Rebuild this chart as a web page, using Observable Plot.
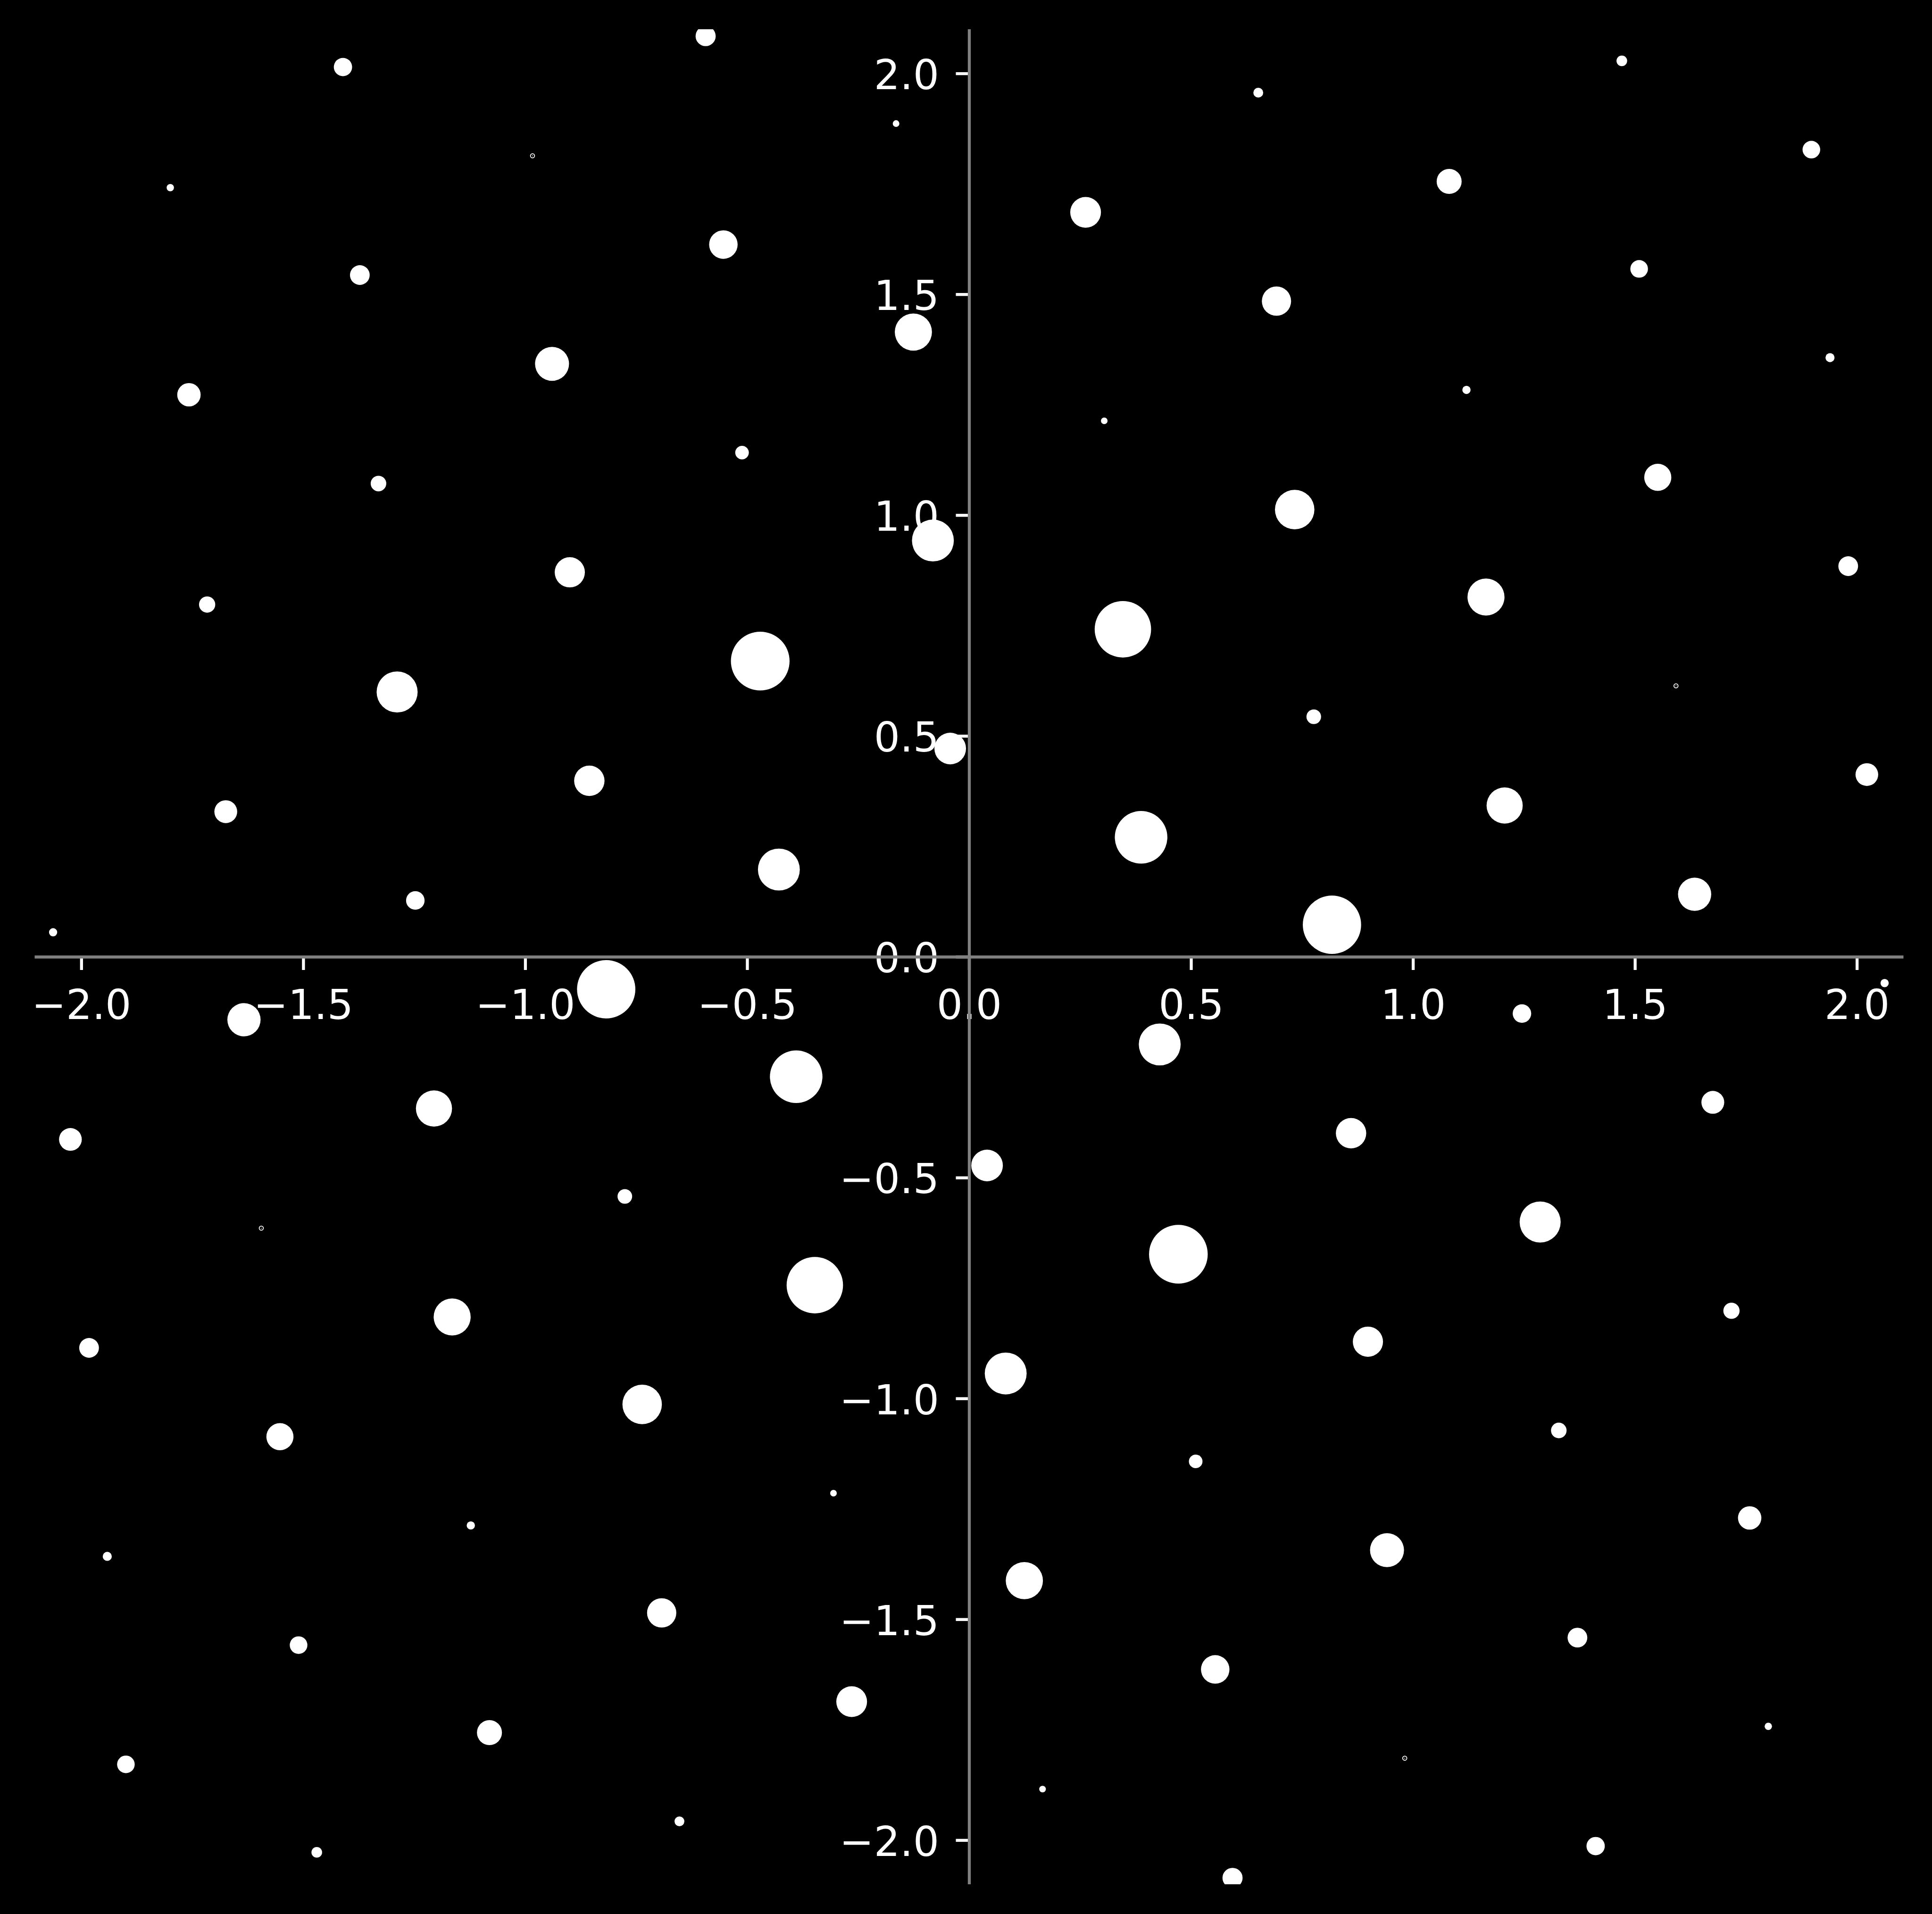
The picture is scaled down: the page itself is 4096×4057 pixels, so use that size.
<!DOCTYPE html>
<html>
<head>
<meta charset="utf-8">
<script src="https://cdn.jsdelivr.net/npm/d3@7"></script>
<script src="https://cdn.jsdelivr.net/npm/@observablehq/plot@0.6"></script>
<style>
  html, body { margin: 0; padding: 0; background: #000; }
  #chart svg { display: block; }
</style>
</head>
<body>
<div id="chart"></div>
<script>
// ---- data ----
const xValues = [
  -1.411, 1.411, -0.594, 0.593, -1.800, 1.800, -0.984, 0.981, -0.165, 0.165,
   0.651, -0.653, 1.470, -1.470, 1.897, -1.900, 1.081, -1.081, 0.262, -0.265,
  -0.554, 0.554, -1.373, 1.370, -1.758, 1.758, -0.940, 0.941, -0.126, 0.124,
   0.692, -0.693, 1.509, -1.511, 1.939, -1.942, 1.120, -1.123, 0.304, -0.306,
  -0.512, 0.510, -1.331, 1.328, -1.717, 1.717, -0.900, 0.898, -0.082, 0.082,
   0.733, -0.737, 1.551, -1.553, 1.980, -1.983, 1.164, -1.165, 0.346, -0.348,
  -0.471, 0.471, -1.289, 1.286, -1.675, 1.675, -0.856, 0.860, -0.043, 0.040,
   0.776, -0.776, 1.592, -1.595, 2.022, -2.025, 1.206, -1.206, 0.387, -0.390,
  -0.429, 0.429, -1.248, 1.245, -2.064, 2.062, 1.634, -1.634, 0.817, -0.818
];
const yValues = [
   2.015, -2.013, 2.085, -2.085, 1.742, -1.742, 1.814, -1.814, 1.887, -1.884,
   1.957, -1.957, 2.029, -2.027, 1.828, -1.828, 1.756, -1.756, 1.686, -1.686,
   1.613, -1.613, 1.544, -1.541, 1.273, -1.270, 1.343, -1.343, 1.415, -1.412,
   1.485, -1.485, 1.558, -1.558, 1.357, -1.357, 1.284, -1.287, 1.214, -1.214,
   1.142, -1.142, 1.072, -1.072, 0.798, -0.801, 0.871, -0.871, 0.943, -0.943,
   1.013, -1.013, 1.086, -1.086, 0.885, -0.885, 0.815, -0.815, 0.742, -0.743,
   0.670, -0.673, 0.600, -0.600, 0.329, -0.329, 0.399, -0.399, 0.472, -0.472,
   0.544, -0.542, 0.614, -0.614, 0.413, -0.413, 0.343, -0.343, 0.271, -0.271,
   0.198, -0.198, 0.128, -0.128, 0.056, -0.059, 0.142, -0.142, 0.073, -0.073
];
// marker size (area, pt^2-like); 0 = vanishing marker (drawn as a hairline ring)
const sizeValues = [
   24.3, 24.3, 29.3, 29.3, 3.9, 3.9, 0, 0, 3.2, 3.2,
   7.0, 7.0, 8.2, 8.2, 22.5, 22.5, 45.3, 45.3, 68.5, 68.5,
   58.8, 58.8, 28.2, 28.2, 39.7, 39.7, 83.6, 83.6, 100.1, 100.1,
   62.0, 62.0, 22.5, 22.5, 5.9, 5.9, 4.9, 4.9, 3.2, 3.2,
   13.4, 13.4, 17.6, 17.6, 19.1, 19.1, 66.0, 66.0, 127.1, 127.1,
   112.7, 112.7, 53.1, 53.1, 28.2, 28.2, 99.1, 99.1, 230.6, 230.6,
   249.4, 249.4, 122.0, 122.0, 37.8, 37.8, 66.9, 66.9, 72.4, 72.4,
   15.5, 15.5, 0, 0, 37.4, 37.4, 94.6, 94.6, 200.0, 200.0,
   127.1, 127.1, 24.8, 24.8, 4.9, 4.9, 79.9, 79.9, 246.2, 246.2
];
const xTicks = [-2, -1.5, -1, -0.5, 0, 0.5, 1, 1.5, 2];
const yTicks = [-2, -1.5, -1, -0.5, 0, 0.5, 1, 1.5, 2];
const tickLabel = d3.format(".1f");

// ---- build ----
const points = xValues.map((x, i) => ({x, y: yValues[i], s: sizeValues[i]}));
const solid = points.filter(d => d.s > 0);
const hollow = points.filter(d => d.s === 0);

const fontSize = 87;
const tickLen = 28;
const lw = 6.3;

const chart = Plot.plot({
  width: 4096,
  height: 4057,
  marginLeft: 73.5,
  marginRight: 60.5,
  marginTop: 62,
  marginBottom: 63,
  style: {background: "#000", color: "#fff", fontFamily: "'DejaVu Sans', sans-serif"},
  x: {domain: [-2.105, 2.105], axis: null},
  y: {domain: [-2.1, 2.1], axis: null},
  r: {type: "sqrt", domain: [0, 249.4], range: [0, 62.2]},
  marks: [
    Plot.text(xTicks, {x: d => d, y: 0, text: tickLabel, dy: tickLen + 42, lineAnchor: "top",
      textAnchor: "middle", fill: "#fff", fontSize}),
    Plot.text(yTicks, {x: 0, y: d => d, text: tickLabel, dx: -(tickLen + 36), dy: 5,
      textAnchor: "end", lineAnchor: "middle", fill: "#fff", fontSize}),
    Plot.ruleX(xTicks, {x: d => d, y1: 0, y2: 0, insetBottom: -tickLen, stroke: "#fff", strokeWidth: lw}),
    Plot.ruleY(yTicks, {y: d => d, x1: 0, x2: 0, insetLeft: -tickLen, stroke: "#fff", strokeWidth: lw}),
    Plot.dot(solid, {x: "x", y: "y", r: "s", fill: "#fff", stroke: "none", clip: true}),
    Plot.dot(hollow, {x: "x", y: "y", r: 4.4, fill: "none", stroke: "#fff", strokeWidth: 1.8}),
    Plot.dot(hollow, {x: "x", y: "y", r: 0.9, fill: "#fff", stroke: "none"}),
    Plot.ruleX([0], {stroke: "#808080", strokeWidth: lw}),
    Plot.ruleY([0], {stroke: "#808080", strokeWidth: lw})
  ]
});
document.getElementById("chart").append(chart);
</script>
</body>
</html>
